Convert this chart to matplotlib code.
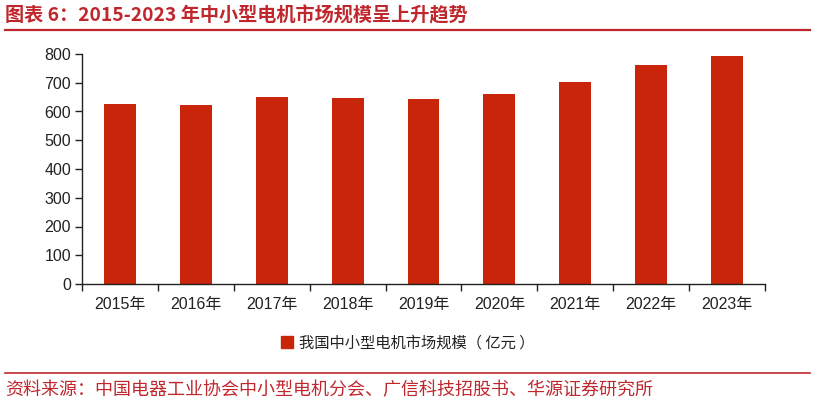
import matplotlib
matplotlib.use("Agg")
import matplotlib.pyplot as plt
from matplotlib.patches import Rectangle
from matplotlib.lines import Line2D

years = ['2015年', '2016年', '2017年', '2018年', '2019年', '2020年', '2021年', '2022年', '2023年']
market_size = [627, 621, 652, 646, 643, 660, 704, 763, 794]
y_ticks = [0, 100, 200, 300, 400, 500, 600, 700, 800]

bar_color = '#C8250A'
red = '#C0272D'
fam = ['Liberation Sans', 'Noto Sans CJK SC']
cjk = ['Noto Sans CJK SC', 'DejaVu Sans']

fig = plt.figure(figsize=(8.15, 4.07), dpi=100)
ax = fig.add_axes([82/815, 1-284/407, (765-82)/815, (284-54)/407])

x = list(range(len(years)))
ax.bar(x, market_size, width=0.42, color=bar_color, zorder=2,
       label='我国中小型电机市场规模（亿元）')

ax.set_xlim(-0.5, len(years)-0.5)
ax.set_ylim(0, 800)
ax.set_yticks(y_ticks)
ax.set_yticklabels([str(v) for v in y_ticks], family=fam, fontsize=11.5, color='#222222')
ax.set_xticks(x)
ax.set_xticklabels(years, family=fam, fontsize=11.5, color='#222222')
ax.tick_params(axis='x', length=0, pad=9)
ax.set_xticks([i-0.5 for i in range(len(years)+1)], minor=True)
ax.tick_params(axis='x', which='minor', length=5, direction='out', color='#222222', width=1)
ax.tick_params(axis='y', length=5, direction='out', color='#222222', width=1, pad=3)

for s in ['top', 'right']:
    ax.spines[s].set_visible(False)
for s in ['left', 'bottom']:
    ax.spines[s].set_color('#222222')
    ax.spines[s].set_linewidth(1)

# legend
leg = fig.legend(handles=[Rectangle((0, 0), 1, 1, color=bar_color)],
                 labels=['我国中小型电机市场规模（ 亿元 ）'],
                 loc='center', bbox_to_anchor=(0.5, 1-343/407), frameon=False,
                 prop={'family': cjk, 'size': 11}, handlelength=0.8, handleheight=0.8,
                 handletextpad=0.4)
for t in leg.get_texts():
    t.set_color('#222222')

# title and lines
fig.text(5/815, 1-16/407, '图表 6：2015-2023 年中小型电机市场规模呈上升趋势',
         family=cjk, fontsize=13.8, fontweight='bold', color=red, va='center', ha='left')
fig.add_artist(Line2D([5/815, 810/815], [1-30/407, 1-30/407], color=red, lw=1.6))
fig.add_artist(Line2D([5/815, 810/815], [1-373/407, 1-373/407], color=red, lw=1.2))
fig.text(5/815, 1-390/407, '资料来源：中国电器工业协会中小型电机分会、广信科技招股书、华源证券研究所',
         family=cjk, fontsize=13, color=red, va='center', ha='left')

fig.savefig('out.png', dpi=100)
